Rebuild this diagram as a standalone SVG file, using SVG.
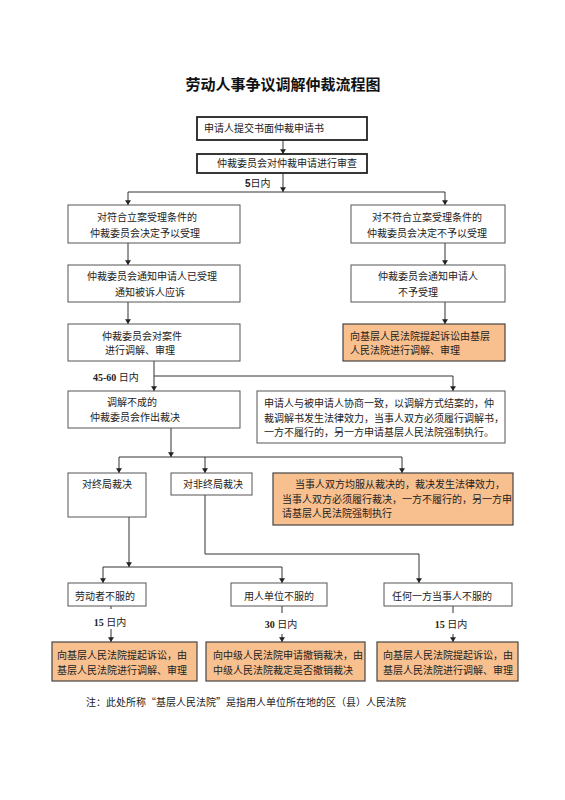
<svg xmlns="http://www.w3.org/2000/svg" width="565" height="800" viewBox="0 0 565 800">
<defs>
<style>
.bx{fill:#fff;stroke:#555;stroke-width:1}
.bk{fill:#fff;stroke:#222;stroke-width:1.8}
.or{fill:#F9C08F;stroke:#444;stroke-width:1.2}
text{font-family:"Noto Sans CJK SC","Noto Sans",sans-serif;font-size:10px;fill:#222}
.c{text-anchor:middle}
.t{font-size:15px;font-weight:bold;fill:#111}
.lb{font-family:"Liberation Sans","Noto Sans CJK SC",sans-serif;font-weight:bold;font-size:10px}
.ls{font-family:"Liberation Serif","Noto Sans CJK SC",serif;font-weight:bold;font-size:10px}
.ln{fill:none;stroke:#333;stroke-width:1}
</style>
<marker id="ar" viewBox="0 0 8 10" refX="8" refY="5" markerWidth="5" markerHeight="6" orient="auto" markerUnits="userSpaceOnUse">
<path d="M0,0 L8,5 L0,10 z" fill="#222"/>
</marker>
</defs>
<rect width="565" height="800" fill="#fff"/>
<text class="t c" x="283" y="90">劳动人事争议调解仲裁流程图</text>

<g id="connectors" class="ln">
<path d="M283,140 V154" marker-end="url(#ar)"/>
<path d="M283,173 V192" marker-end="url(#ar)"/>
<path d="M128,192 H445"/>
<path d="M128,192 V205" marker-end="url(#ar)"/>
<path d="M445,192 V205" marker-end="url(#ar)"/>
<path d="M128,243 V265" marker-end="url(#ar)"/>
<path d="M445,243 V265" marker-end="url(#ar)"/>
<path d="M128,302 V324" marker-end="url(#ar)"/>
<path d="M445,302 V324" marker-end="url(#ar)"/>
<path d="M154,361 V391" marker-end="url(#ar)"/>
<path d="M154,376 H453 V391" marker-end="url(#ar)"/>
<path d="M171,428 V457" marker-end="url(#ar)"/>
<path d="M119,457 H402"/>
<path d="M119,457 V473" marker-end="url(#ar)"/>
<path d="M205,457 V473" marker-end="url(#ar)"/>
<path d="M402,457 V473" marker-end="url(#ar)"/>
<path d="M129,517 V567" marker-end="url(#ar)"/>
<path d="M103,567 H282"/>
<path d="M103,567 V583" marker-end="url(#ar)"/>
<path d="M282,567 V583" marker-end="url(#ar)"/>
<path d="M205,495 V554 H419 V583" marker-end="url(#ar)"/>
<path d="M111,606 V609"/>
<path d="M282,606 V613"/>
<path d="M453,606 V613"/>
<path d="M111,629 V642" marker-end="url(#ar)"/>
<path d="M282,634 V642" marker-end="url(#ar)"/>
<path d="M453,634 V642" marker-end="url(#ar)"/>
</g>
<text class="lb" x="245" y="187">5<tspan style="font-weight:normal;font-family:'Noto Sans CJK SC',sans-serif">日内</tspan></text>
<text class="ls" x="93" y="381">45-60 <tspan style="font-weight:normal;font-family:'Noto Sans CJK SC',sans-serif">日内</tspan></text>
<text class="ls c" x="110" y="626">15 <tspan style="font-weight:normal;font-family:'Noto Sans CJK SC',sans-serif">日内</tspan></text>
<text class="ls c" x="281" y="628">30 <tspan style="font-weight:normal;font-family:'Noto Sans CJK SC',sans-serif">日内</tspan></text>
<text class="ls c" x="451" y="628">15 <tspan style="font-weight:normal;font-family:'Noto Sans CJK SC',sans-serif">日内</tspan></text>

<g id="n1"><rect class="bk" x="197" y="117" width="170" height="23"/><text x="204" y="132">申请人提交书面仲裁申请书</text></g>
<g id="n2"><rect class="bk" x="197" y="154" width="170" height="19"/><text x="217" y="167">仲裁委员会对仲裁申请进行审查</text></g>
<g id="n3"><rect class="bx" x="68" y="205" width="172" height="38"/><text class="c" x="147" y="221">对符合立案受理条件的</text><text class="c" x="145" y="237">仲裁委员会决定予以受理</text></g>
<g id="n4"><rect class="bx" x="351" y="205" width="154" height="38"/><text class="c" x="427" y="221">对不符合立案受理条件的</text><text class="c" x="427" y="237">仲裁委员会决定不予以受理</text></g>
<g id="n5"><rect class="bx" x="68" y="265" width="172" height="37"/><text class="c" x="152" y="280">仲裁委员会通知申请人已受理</text><text class="c" x="150" y="296">通知被诉人应诉</text></g>
<g id="n6"><rect class="bx" x="351" y="265" width="154" height="37"/><text class="c" x="428" y="280">仲裁委员会通知申请人</text><text class="c" x="418" y="296">不予受理</text></g>
<g id="n7"><rect class="bx" x="68" y="324" width="172" height="37"/><text class="c" x="142" y="340">仲裁委员会对案件</text><text class="c" x="140" y="354">进行调解、审理</text></g>
<g id="n8"><rect class="or" x="343" y="324" width="162" height="37"/><text x="350" y="340">向基层人民法院提起诉讼由基层</text><text x="350" y="354">人民法院进行调解、审理</text></g>
<g id="n9"><rect class="bx" x="68" y="391" width="172" height="37"/><text class="c" x="132" y="406">调解不成的</text><text class="c" x="135" y="421">仲裁委员会作出裁决</text></g>
<g id="n10"><rect class="bx" x="257" y="391" width="248" height="52"/><text x="264" y="407">申请人与被申请人协商一致，以调解方式结案的，仲</text><text x="264" y="422">裁调解书发生法律效力，当事人双方必须履行调解书，</text><text x="264" y="436">一方不履行的，另一方申请基层人民法院强制执行。</text></g>
<g id="n11"><rect class="bx" x="68" y="473" width="78" height="44"/><text class="c" x="107" y="488">对终局裁决</text></g>
<g id="n12"><rect class="bx" x="171" y="473" width="81" height="22"/><text class="c" x="213" y="488">对非终局裁决</text></g>
<g id="n13"><rect class="or" x="273" y="473" width="240" height="52"/><text x="295" y="488">当事人双方均服从裁决的，裁决发生法律效力，</text><text x="282" y="503">当事人双方必须履行裁决，一方不履行的，另一方申</text><text x="282" y="517">请基层人民法院强制执行</text></g>
<g id="n14"><rect class="bx" x="68" y="583" width="78" height="23"/><text x="75" y="600">劳动者不服的</text></g>
<g id="n15"><rect class="bx" x="231" y="583" width="96" height="23"/><text class="c" x="279" y="600">用人单位不服的</text></g>
<g id="n16"><rect class="bx" x="384" y="583" width="128" height="23"/><text class="c" x="442" y="600">任何一方当事人不服的</text></g>
<g id="n17"><rect class="or" x="52" y="642" width="145" height="39"/><text x="57" y="659">向基层人民法院提起诉讼，由</text><text x="57" y="674">基层人民法院进行调解、审理</text></g>
<g id="n18"><rect class="or" x="206" y="642" width="159" height="39"/><text x="213" y="659">向中级人民法院申请撤销裁决，由</text><text x="213" y="674">中级人民法院裁定是否撤销裁决</text></g>
<g id="n19"><rect class="or" x="377" y="642" width="141" height="39"/><text x="383" y="659">向基层人民法院提起诉讼，由</text><text x="383" y="674">基层人民法院进行调解、审理</text></g>
<text x="86" y="706">注：此处所称“基层人民法院”是指用人单位所在地的区（县）人民法院</text>
</svg>
